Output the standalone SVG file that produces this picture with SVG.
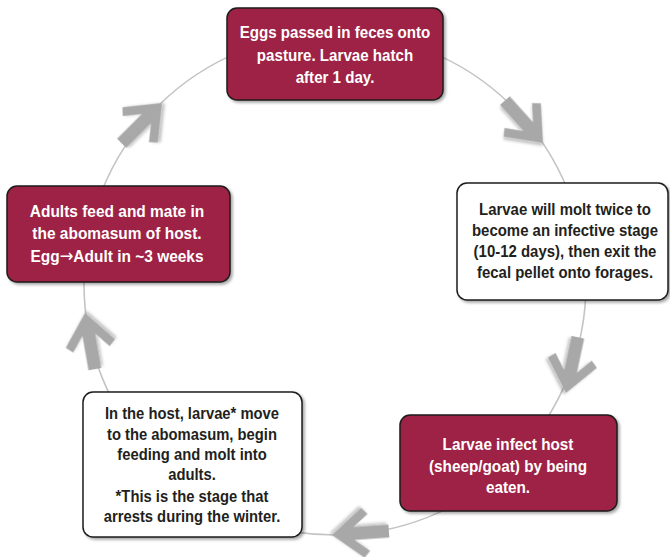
<svg xmlns="http://www.w3.org/2000/svg" width="670" height="557" viewBox="0 0 670 557">
  <style>
    .red { fill: #9e2444; stroke: #1c1c1c; stroke-width: 1.5; }
    .white { fill: #ffffff; stroke: #1c1c1c; stroke-width: 1.5; }
    .t { font-family: "Liberation Sans", Arial, sans-serif; font-weight: bold; font-size: 17px; text-anchor: middle; }
    .tw { fill: #ffffff; }
    .tb { fill: #231f20; }
    .sym { font-family: "DejaVu Sans", sans-serif; font-weight: normal; font-size: 18px; }
    .arrow { fill: #a8a8a8; }
    .ring { fill: none; stroke: #c4c4c4; stroke-width: 1.6; }
  </style>
  <defs>
    <filter id="shadow" x="-10%" y="-10%" width="125%" height="125%">
      <feGaussianBlur in="SourceAlpha" stdDeviation="1.5"/>
      <feOffset dx="2" dy="2" result="b"/>
      <feComponentTransfer><feFuncA type="linear" slope="0.35"/></feComponentTransfer>
      <feMerge><feMergeNode/><feMergeNode in="SourceGraphic"/></feMerge>
    </filter>
    <filter id="ashadow" x="-30%" y="-30%" width="160%" height="160%">
      <feGaussianBlur in="SourceAlpha" stdDeviation="1.5"/>
      <feOffset dx="1.5" dy="1.5" result="b"/>
      <feComponentTransfer><feFuncA type="linear" slope="0.25"/></feComponentTransfer>
      <feMerge><feMergeNode/><feMergeNode in="SourceGraphic"/></feMerge>
    </filter>
    <path id="arr" d="M0,0 L-31,-25 L-37,-18.5 L-22,-6.5 L-57,-6.5 L-57,6.5 L-22,6.5 L-37,18.5 L-31,25 Z"/>
  </defs>
  <rect width="670" height="557" fill="#ffffff"/>

  <g id="connectors">
    <circle class="ring" cx="335" cy="284" r="251"/>
    <use href="#arr" class="arrow" filter="url(#ashadow)" transform="translate(543,143) rotate(48)"/>
    <use href="#arr" class="arrow" filter="url(#ashadow)" transform="translate(566,393) rotate(102)"/>
    <use href="#arr" class="arrow" filter="url(#ashadow)" transform="translate(332,535) rotate(176)"/>
    <use href="#arr" class="arrow" filter="url(#ashadow)" transform="translate(85,313) rotate(-100)"/>
    <use href="#arr" class="arrow" filter="url(#ashadow)" transform="translate(162,103) rotate(-45)"/>
  </g>

  <g id="node-eggs">
    <rect class="red" x="227" y="8" width="216" height="92" rx="10" filter="url(#shadow)"/>
    <g transform="translate(335 0) scale(0.89 1)">
      <text class="t tw" x="0" y="38">Eggs passed in feces onto</text>
      <text class="t tw" x="0" y="61">pasture. Larvae hatch</text>
      <text class="t tw" x="0" y="83">after 1 day.</text>
    </g>
  </g>

  <g id="node-molt">
    <rect class="white" x="457" y="183" width="211" height="117" rx="10" filter="url(#shadow)"/>
    <g transform="translate(565 0) scale(0.88 1)">
      <text class="t tb" x="0" y="215">Larvae will molt twice to</text>
      <text class="t tb" x="0" y="236">become an infective stage</text>
      <text class="t tb" x="0" y="257">(10-12 days), then exit the</text>
      <text class="t tb" x="0" y="278">fecal pellet onto forages.</text>
    </g>
  </g>

  <g id="node-infect">
    <rect class="red" x="400" y="415" width="217" height="96" rx="10" filter="url(#shadow)"/>
    <g transform="translate(508 0) scale(0.9 1)">
      <text class="t tw" x="0" y="450">Larvae infect host</text>
      <text class="t tw" x="0" y="472">(sheep/goat) by being</text>
      <text class="t tw" x="0" y="493">eaten.</text>
    </g>
  </g>

  <g id="node-host">
    <rect class="white" x="83" y="392" width="219" height="145" rx="10" filter="url(#shadow)"/>
    <g transform="translate(192 0) scale(0.87 1)">
      <text class="t tb" x="0" y="419">In the host, larvae* move</text>
      <text class="t tb" x="0" y="440">to the abomasum, begin</text>
      <text class="t tb" x="0" y="460">feeding and molt into</text>
      <text class="t tb" x="0" y="480">adults.</text>
      <text class="t tb" x="0" y="502">*This is the stage that</text>
      <text class="t tb" x="0" y="522">arrests during the winter.</text>
    </g>
  </g>

  <g id="node-adults">
    <rect class="red" x="7" y="186" width="223" height="96" rx="10" filter="url(#shadow)"/>
    <g transform="translate(117 0) scale(0.91 1)">
      <text class="t tw" x="0" y="217">Adults feed and mate in</text>
      <text class="t tw" x="0" y="239">the abomasum of host.</text>
      <text class="t tw" x="0" y="262">Egg<tspan class="sym">→</tspan>Adult in ~3 weeks</text>
    </g>
  </g>
</svg>
